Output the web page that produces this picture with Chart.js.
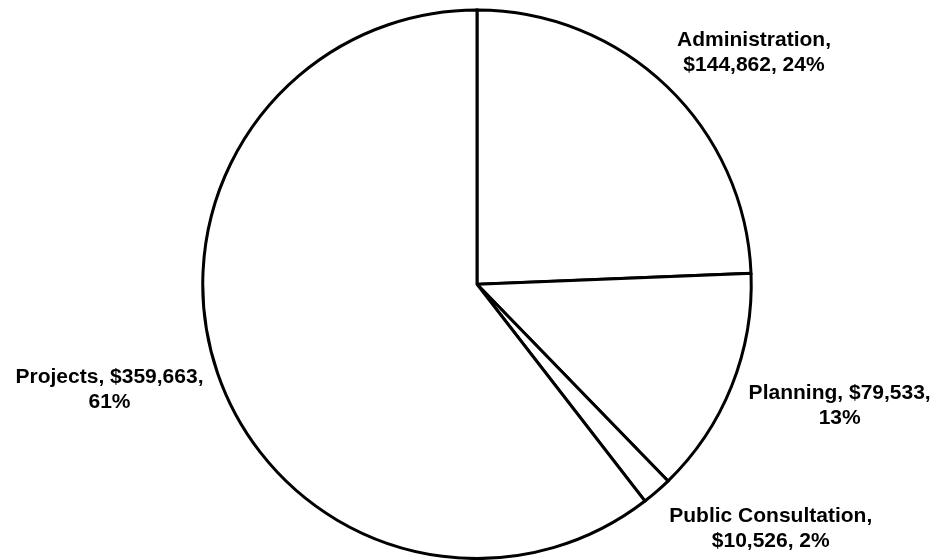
<!DOCTYPE html>
<html>
<head>
<meta charset="utf-8">
<script src="https://cdn.jsdelivr.net/npm/chart.js@4/dist/chart.umd.min.js"></script>
<style>
  html, body { margin: 0; padding: 0; background: #ffffff; }
  #wrap { width: 936px; height: 560px; position: relative; }
</style>
</head>
<body>
<div id="wrap"><canvas id="c" width="936" height="560"></canvas></div>
<script>
const categories = ['Administration', 'Planning', 'Public Consultation', 'Projects'];
const amounts = [144862, 79533, 10526, 359663];
const percentLabels = ['24%', '13%', '2%', '61%'];
// label text split into lines as shown in the chart
const labelLines = [
  ['Administration,', '$144,862, 24%'],
  ['Planning, $79,533,', '13%'],
  ['Public Consultation,', '$10,526, 2%'],
  ['Projects, $359,663,', '61%']
];

const labelOffsets = [[87, -35], [108, 18], [114, 36], [-108, 15]];

const outsideLabels = {
  id: 'outsideLabels',
  afterDatasetsDraw(chart) {
    const ctx = chart.ctx;
    const meta = chart.getDatasetMeta(0);
    ctx.save();
    ctx.fillStyle = '#000000';
    ctx.font = 'bold 21px "Liberation Sans", Arial, sans-serif';
    ctx.textAlign = 'center';
    ctx.textBaseline = 'alphabetic';
    const lineH = 25, capH = 15;
    meta.data.forEach((arc, i) => {
      const p = arc.getProps(['x', 'y', 'startAngle', 'endAngle', 'outerRadius']);
      const mid = (p.startAngle + p.endAngle) / 2;
      const ax = p.x + Math.cos(mid) * p.outerRadius;
      const ay = p.y + Math.sin(mid) * p.outerRadius;
      const cx = ax + labelOffsets[i][0];
      const cy = ay + labelOffsets[i][1];
      const lines = labelLines[i];
      const total = capH + lineH * (lines.length - 1);
      let base = cy - total / 2 + capH;
      lines.forEach(t => { ctx.fillText(t, cx, base); base += lineH; });
    });
    ctx.restore();
  }
};

new Chart(document.getElementById('c'), {
  type: 'pie',
  data: {
    labels: categories,
    datasets: [{
      data: amounts,
      backgroundColor: '#ffffff',
      borderColor: '#000000',
      borderWidth: 3,
      borderJoinStyle: 'miter',
      hoverOffset: 0
    }]
  },
  options: {
    responsive: false,
    animation: false,
    events: [],
    layout: { padding: { top: 8.5, bottom: -3.5, left: 18, right: 0 } },
    plugins: {
      legend: { display: false },
      tooltip: { enabled: false }
    }
  },
  plugins: [outsideLabels]
});
</script>
</body>
</html>
